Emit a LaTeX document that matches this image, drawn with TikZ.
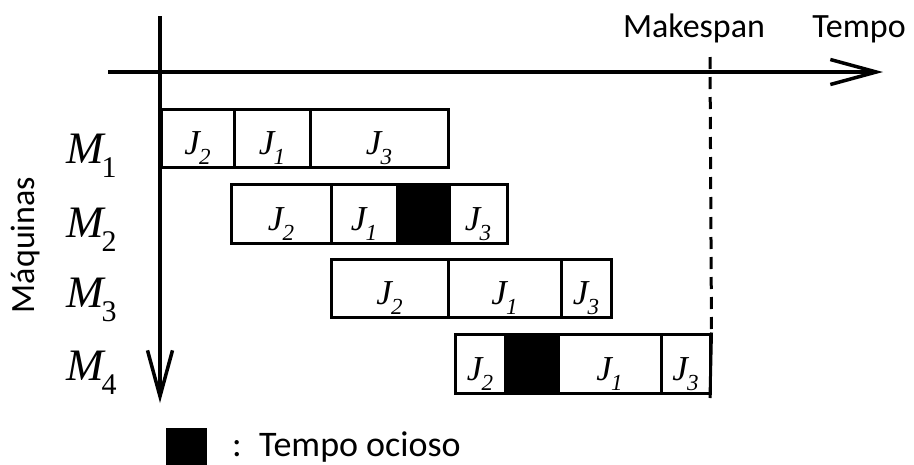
\documentclass[tikz,border=0pt]{standalone}
\usepackage{fontspec}
\setmainfont{Liberation Serif}
\newfontfamily\labfont{Carlito}
\usetikzlibrary{arrows.meta,fit}
\newcommand\jlab[1]{{\fontsize{35}{35}\selectfont\itshape J\kern-1pt\raisebox{-10pt}{\fontsize{23}{23}\selectfont #1}}}
\newcommand\mlab[1]{{\fontsize{45}{45}\selectfont\itshape M\kern-2pt\raisebox{-14pt}{\upshape\fontsize{30}{30}\selectfont #1}}}
\begin{document}
\begin{tikzpicture}[x=1pt,y=-1pt,
  cell/.style={draw, line width=3pt, inner sep=0pt, rectangle},
  idle/.style={cell, fill=black},
  jtext/.style={anchor=base, inner sep=0pt},
  mtext/.style={anchor=base west, inner sep=0pt},
  axis/.style={line width=3.5pt, -{Straight Barb[length=46pt,width=25pt]}},
  word/.style={font=\labfont\fontsize{34}{34}\selectfont, inner sep=0pt}]
\useasboundingbox (0,0) rectangle (914,464);
% M1
\node[cell, fit={(161,109)(234,167)}] (b11) {};
\node[cell, fit={(234,109)(310,167)}] (b12) {};
\node[cell, fit={(310,109)(448,167)}] (b13) {};
% M2
\node[cell, fit={(231,184)(331,243)}] (b21) {};
\node[cell, fit={(331,184)(397,243)}] (b22) {};
\node[idle, fit={(397,184)(449,243)}] (i2) {};
\node[cell, fit={(449,184)(507,243)}] (b23) {};
% M3
\node[cell, fit={(331,259)(448,317)}] (b31) {};
\node[cell, fit={(448,259)(561,317)}] (b32) {};
\node[cell, fit={(561,259)(611,317)}] (b33) {};
% M4
\node[cell, fit={(455,334)(505,393)}] (b41) {};
\node[idle, fit={(505,334)(558,393)}] (i4) {};
\node[cell, fit={(558,334)(661,393)}] (b42) {};
\node[cell, fit={(661,334)(710,393)}] (b43) {};
% job labels
\foreach \b/\j in {b11/2,b12/1,b13/3,b21/2,b22/1,b23/3,b31/2,b32/1,b33/3,b41/2,b42/1,b43/3}{
  \node[jtext] (t\b) at ([yshift=14pt]\b.south) {\jlab{\j}};
}
% machine labels
\node[mtext] (m1) at (66,163) {\mlab{1}};
\node[mtext] (m2) at (66,237) {\mlab{2}};
\node[mtext] (m3) at (66,307) {\mlab{3}};
\node[mtext] (m4) at (66,380) {\mlab{4}};
% axes
\coordinate (vt) at (160,16);
\coordinate (vb) at (160,403);
\coordinate (hl) at (108,72);
\coordinate (hr) at (883,72);
\draw[axis] (vt) -- (vb);
\draw[axis] (hl) -- (hr);
% makespan
\coordinate (ms) at (710,57);
\coordinate (msb) at (710,398);
\draw[line width=3pt, dash pattern=on 12pt off 8pt] (ms) -- (b43.north east);
\draw[line width=3pt] (b43.north east) -- (msb);
% texts
\node[word, anchor=base] (mk) at (694,37) {Makespan};
\node[word, anchor=base] (tp) at (859,37) {Tempo};
\node[word, rotate=90] (maq) at (26,245) {Máquinas};
% legend
\node[idle, line width=0pt, fit={(166,428)(206,464)}] (leg) {};
\node[word, anchor=base, font=\labfont\fontsize{36}{36}\selectfont] (colon) at (237,456) {:};
\node[word, anchor=base west, font=\labfont\fontsize{36}{36}\selectfont] (legt) at (259,456) {Tempo ocioso};
\end{tikzpicture}
\end{document}
